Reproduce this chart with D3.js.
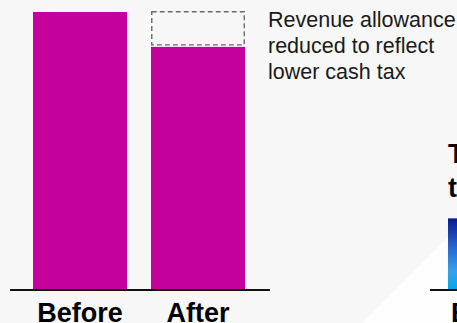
<!DOCTYPE html>
<html>
<head>
<meta charset="utf-8">
<script src="https://cdn.jsdelivr.net/npm/d3@7"></script>
<style>
  body { margin: 0; background: #f7f7f7; }
  svg { display: block; font-family: "Liberation Sans", Arial, sans-serif; }
</style>
</head>
<body>
<div id="viz"></div>
<script>
// chart data
var categories = ['Before', 'After'];
var values = [100, 87.4];
var previous_after = 100;   // dashed outline shows what "After" was before the cut
var note_lines = ['Revenue allowance', 'reduced to reflect', 'lower cash tax'];
var next_title = ['T', 't'];
var next_categories = ['B'];
var next_values = [25.5];

var width = 457, height = 323;

var svg = d3.select('#viz').append('svg')
    .attr('width', width)
    .attr('height', height);

svg.append('rect')
    .attr('width', width)
    .attr('height', height)
    .attr('fill', '#f7f7f7');

// faint light diagonal shape on the right
svg.append('polygon')
    .attr('points', '362,323 448,237 457,237 457,323')
    .attr('fill', '#ffffff')
    .attr('opacity', 0.8);

// set the ranges
var x = d3.scaleBand().domain(categories).range([33, 245]).paddingInner(0.2034).paddingOuter(0);
var y = d3.scaleLinear().domain([0, 100]).range([289, 12]);

// bars
svg.selectAll('.bar')
    .data(values)
    .enter().append('rect')
    .attr('class', 'bar')
    .attr('x', function(d, i) { return x(categories[i]); })
    .attr('y', function(d) { return y(d); })
    .attr('width', x.bandwidth())
    .attr('height', function(d) { return y(0) - y(d); })
    .attr('fill', '#c6009c');

// dashed outline of removed part
svg.append('rect')
    .attr('x', x('After') + 0.75)
    .attr('y', y(previous_after) - 0.25)
    .attr('width', x.bandwidth() - 1.5)
    .attr('height', y(values[1]) - y(previous_after) - 1.75)
    .attr('fill', 'none')
    .attr('stroke', '#6a6a6a')
    .attr('stroke-width', 1.4)
    .attr('stroke-dasharray', '5,3');

// baseline
svg.append('line')
    .attr('x1', 10).attr('x2', 270)
    .attr('y1', 290).attr('y2', 290)
    .attr('stroke', '#111').attr('stroke-width', 2);

// category labels
svg.selectAll('.cat')
    .data(categories)
    .enter().append('text')
    .attr('class', 'cat')
    .attr('x', function(d) { return x(d) + x.bandwidth() / 2; })
    .attr('y', 322)
    .attr('text-anchor', 'middle')
    .style('font-size', '27px')
    .style('font-weight', 'bold')
    .attr('fill', '#000')
    .text(function(d) { return d; });

// annotation
svg.selectAll('.note')
    .data(note_lines)
    .enter().append('text')
    .attr('class', 'note')
    .attr('x', 268)
    .attr('y', function(d, i) { return 27 + i * 26; })
    .style('font-size', '21.5px')
    .attr('fill', '#1a1a1a')
    .text(function(d) { return d; });

// next chart peeking in on the right
svg.selectAll('.title2')
    .data(next_title)
    .enter().append('text')
    .attr('class', 'title2')
    .attr('x', 448)
    .attr('y', function(d, i) { return 163 + i * 34; })
    .style('font-size', '27px')
    .style('font-weight', 'bold')
    .attr('fill', '#000')
    .text(function(d) { return d; });

var grad = svg.append('defs').append('linearGradient')
    .attr('id', 'blue')
    .attr('x1', 0).attr('y1', 0).attr('x2', 0).attr('y2', 1);
grad.append('stop').attr('offset', '0%').attr('stop-color', '#0b188c');
grad.append('stop').attr('offset', '45%').attr('stop-color', '#2a6fd2');
grad.append('stop').attr('offset', '75%').attr('stop-color', '#38a0e6');
grad.append('stop').attr('offset', '100%').attr('stop-color', '#05a6ea');

var y2 = d3.scaleLinear().domain([0, 100]).range([289, 12]);
svg.selectAll('.bar2')
    .data(next_values)
    .enter().append('rect')
    .attr('class', 'bar2')
    .attr('x', 448)
    .attr('y', function(d) { return y2(d); })
    .attr('width', 12)
    .attr('height', function(d) { return y2(0) - y2(d); })
    .attr('fill', 'url(#blue)');

svg.append('line')
    .attr('x1', 430).attr('x2', 457)
    .attr('y1', 290).attr('y2', 290)
    .attr('stroke', '#111').attr('stroke-width', 2);

svg.selectAll('.cat2')
    .data(next_categories)
    .enter().append('text')
    .attr('class', 'cat2')
    .attr('x', 451)
    .attr('y', 322)
    .style('font-size', '27px')
    .style('font-weight', 'bold')
    .attr('fill', '#000')
    .text(function(d) { return d; });
</script>
</body>
</html>
